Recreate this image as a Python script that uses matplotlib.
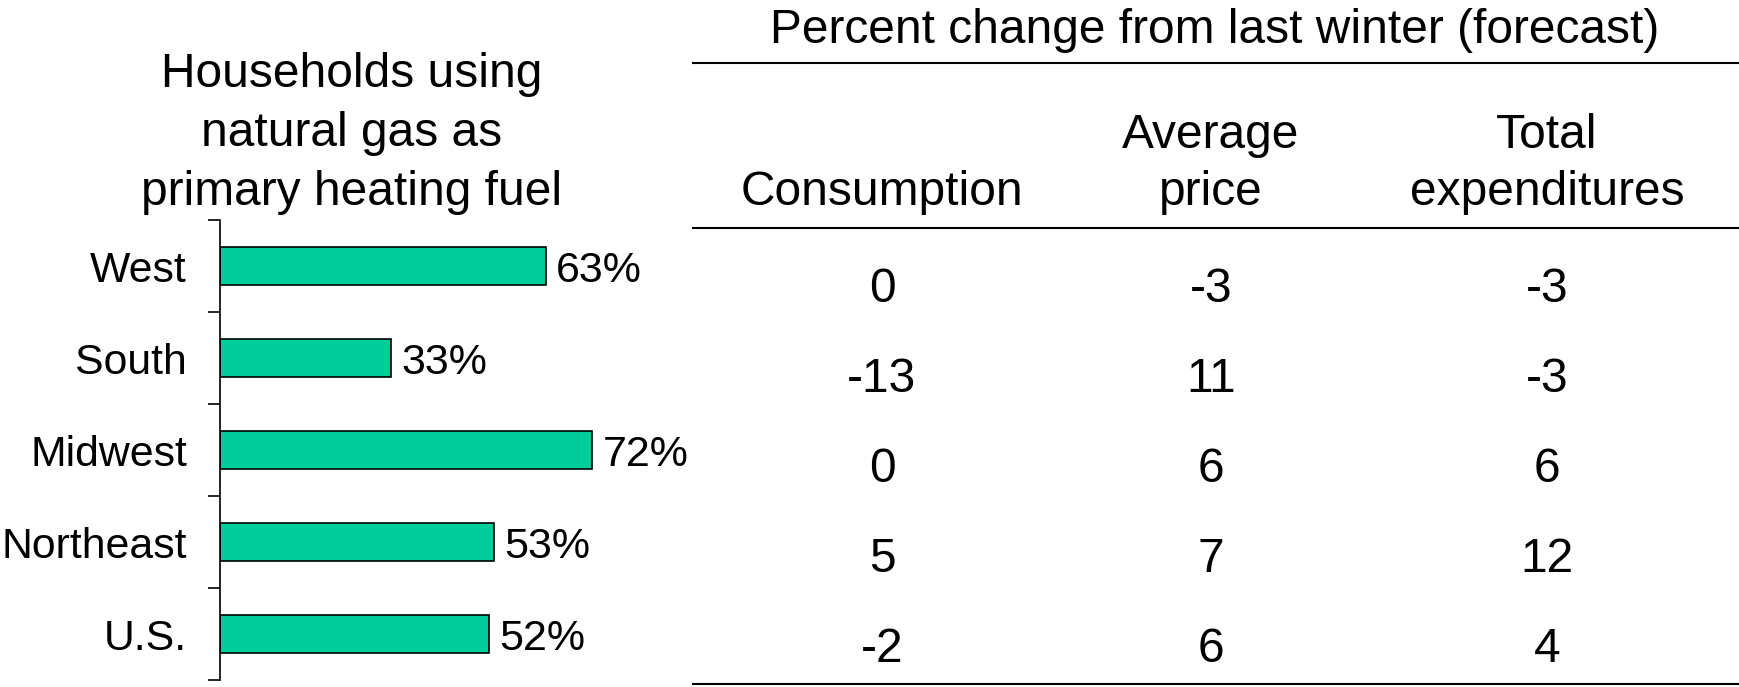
import matplotlib
matplotlib.use("Agg")
import matplotlib.pyplot as plt

plt.rcParams['font.family'] = ['Liberation Sans', 'DejaVu Sans']

# ---- data ----
regions = ["West", "South", "Midwest", "Northeast", "U.S."]
gas_share = [63, 33, 72, 53, 52]
bar_labels = ["63%", "33%", "72%", "53%", "52%"]

left_title_lines = ["Households using", "natural gas as", "primary heating fuel"]
table_title = "Percent change from last winter (forecast)"
col_headers = [["Consumption"], ["Average", "price"], ["Total", "expenditures"]]
consumption = [0, -13, 0, 5, -2]
avg_price = [-3, 11, 6, 7, 6]
total_exp = [-3, -3, 6, 12, 4]

BAR_COLOR = "#00CC99"
W, H = 1740, 687
fig = plt.figure(figsize=(W / 100, H / 100), dpi=100)

# overlay axes in pixel coordinates for the table and titles
ov = fig.add_axes([0, 0, 1, 1])
ov.set_xlim(0, W)
ov.set_ylim(H, 0)
ov.axis("off")
ov.patch.set_alpha(0)

# left title
for i, line in enumerate(left_title_lines):
    ov.text(352, 87 + 59 * i, line, ha="center", va="baseline", fontsize=34.5)

# table title and rules
ov.text(1215, 43, table_title, ha="center", va="baseline", fontsize=34.5)
for yy in (63, 228, 684):
    ov.hlines(yy, 692, W, color="black", lw=1.5)

col_x = [882, 1211, 1547]
for cx, lines in zip(col_x, col_headers):
    n = len(lines)
    for j, line in enumerate(lines):
        ov.text(cx, 205 - 57 * (n - 1 - j), line, ha="center", va="baseline", fontsize=34.5)

columns = [consumption, avg_price, total_exp]
for cx, vals in zip(col_x, columns):
    for i, v in enumerate(vals):
        ov.text(cx, 302 + 90 * i, f"{v}", ha="center", va="baseline", fontsize=34.5)

# bar chart
ax = fig.add_axes([220 / W, 7 / H, 517 / W, 460 / H])
n = len(regions)
ypos = [n - 1 - i for i in range(n)]
ax.barh(ypos, gas_share, height=0.41, color=BAR_COLOR, edgecolor="black", linewidth=1.2)
ax.set_xlim(0, 100)
ax.set_ylim(-0.5, n - 0.5)
for sp in ("top", "right", "bottom"):
    ax.spines[sp].set_visible(False)
ax.spines["left"].set_linewidth(1.2)
ax.set_xticks([])
ax.set_yticks([k - 0.5 for k in range(n + 1)])
ax.set_yticklabels([])
ax.tick_params(axis="y", which="major", direction="out", length=9, width=1.2)
ax.set_yticks(ypos, minor=True)
ax.set_yticklabels(regions, minor=True, fontsize=30.8)
ax.tick_params(axis="y", which="minor", length=0, pad=23.8)
for t in ax.get_yticklabels(minor=True):
    t.set_verticalalignment("center_baseline")
ax.patch.set_alpha(0)
for y, v, lab in zip(ypos, gas_share, bar_labels):
    ax.annotate(lab, (v, y), xytext=(7.5, 0), textcoords="offset points",
                ha="left", va="center_baseline", fontsize=31)

fig.savefig("out.png", dpi=100)
